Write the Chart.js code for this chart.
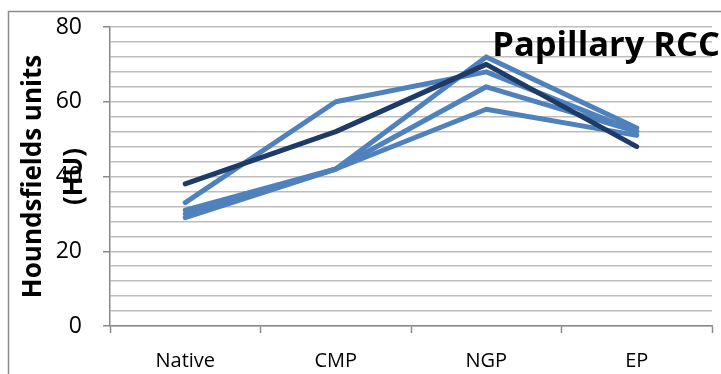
<!DOCTYPE html>
<html>
<head>
<meta charset="utf-8">
<script src="https://cdn.jsdelivr.net/npm/chart.js@4/dist/chart.umd.min.js"></script>
<style>
  html, body { margin: 0; padding: 0; background: #ffffff; }
  #wrap { position: relative; width: 721px; height: 374px; }
</style>
</head>
<body>
<div id="wrap"><canvas id="chart" width="721" height="374"></canvas></div>
<script>
// Enhancement phases
const phases = ['Native', 'CMP', 'NGP', 'EP'];

// Attenuation (HU) per lesion across the phases
const lesionMean = [38, 52, 70, 48];
const lesionA = [33, 60, 68, 52];
const lesionB = [31, 42, 72, 53];
const lesionC = [30, 42, 64, 52];
const lesionD = [29, 42, 58, 51];

// Axis range and tick spacing
const yMin = 0;
const yMax = 80;
const yMinorStep = 4;
const yLabelStep = 20;

const chartTitle = 'Papillary RCC';
const yTitle = ['Houndsfields units', '(HU)'];

const LIGHT = '#4f81bd';
const DARK = '#1d3b66';
const GRID = '#bdbdbd';
const AXIS = '#8a8a8a';

function series(data, color) {
  return {
    data: data,
    borderColor: color,
    backgroundColor: color,
    borderWidth: 5,
    pointRadius: 0,
    pointHoverRadius: 0,
    tension: 0,
    fill: false,
    borderCapStyle: 'round',
    borderJoinStyle: 'round'
  };
}

// Outer frame and the chart title text
const decorations = {
  id: 'decorations',
  beforeDraw(chart) {
    const ctx = chart.ctx;
    ctx.save();
    ctx.strokeStyle = '#8c8c8c';
    ctx.lineWidth = 1.5;
    ctx.strokeRect(8.5, 11.5, 760, 420);
    ctx.restore();
  },
  beforeDatasetsDraw(chart) {
    const ctx = chart.ctx;
    ctx.save();
    ctx.font = 'bold 34.5px "Open Sans"';
    ctx.fillStyle = '#000000';
    ctx.textAlign = 'right';
    ctx.textBaseline = 'alphabetic';
    ctx.fillText(chartTitle, 720, 56);
    ctx.restore();
  }
};

new Chart(document.getElementById('chart'), {
  type: 'line',
  data: {
    labels: phases,
    datasets: [
      series(lesionMean, DARK),
      series(lesionB, LIGHT),
      series(lesionA, LIGHT),
      series(lesionC, LIGHT),
      series(lesionD, LIGHT)
    ]
  },
  options: {
    responsive: false,
    animation: false,
    events: [],
    layout: { padding: { left: 10, right: 9, top: 27, bottom: 0 } },
    plugins: {
      legend: { display: false },
      title: { display: false },
      tooltip: { enabled: false }
    },
    scales: {
      x: {
        type: 'category',
        offset: true,
        grid: {
          offset: true,
          drawOnChartArea: false,
          drawTicks: true,
          tickLength: 7,
          tickWidth: 1.5,
          tickColor: AXIS
        },
        border: { color: AXIS, width: 1.5 },
        ticks: {
          color: '#000000',
          font: { family: '"Open Sans"', size: 20 },
          padding: 16,
          maxRotation: 0,
          autoSkip: false
        },
        afterFit(scale) { scale.height = 48; }
      },
      y: {
        min: yMin,
        max: yMax,
        grid: {
          color: GRID,
          lineWidth: 1.5,
          drawTicks: true,
          tickLength: 7,
          tickWidth: 1.5,
          tickColor: (c) => (c.tick && c.tick.value % yLabelStep === 0) ? AXIS : 'rgba(0,0,0,0)'
        },
        border: { color: AXIS, width: 1.5 },
        ticks: {
          stepSize: yMinorStep,
          autoSkip: false,
          color: '#000000',
          padding: 21,
          font: { family: '"Open Sans"', size: 23 },
          callback: (v) => (v % yLabelStep === 0 ? String(v) : '')
        },
        title: {
          display: true,
          text: yTitle,
          color: '#000000',
          font: { family: '"Open Sans"', size: 26, weight: 'bold', lineHeight: 1.58 },
          padding: { top: 3, bottom: 0 }
        },
        afterFit(scale) {
          scale.width = 100;
          scale.paddingTop = 0;
          scale.paddingBottom = 0;
        }
      }
    }
  },
  plugins: [decorations]
});
</script>
</body>
</html>
